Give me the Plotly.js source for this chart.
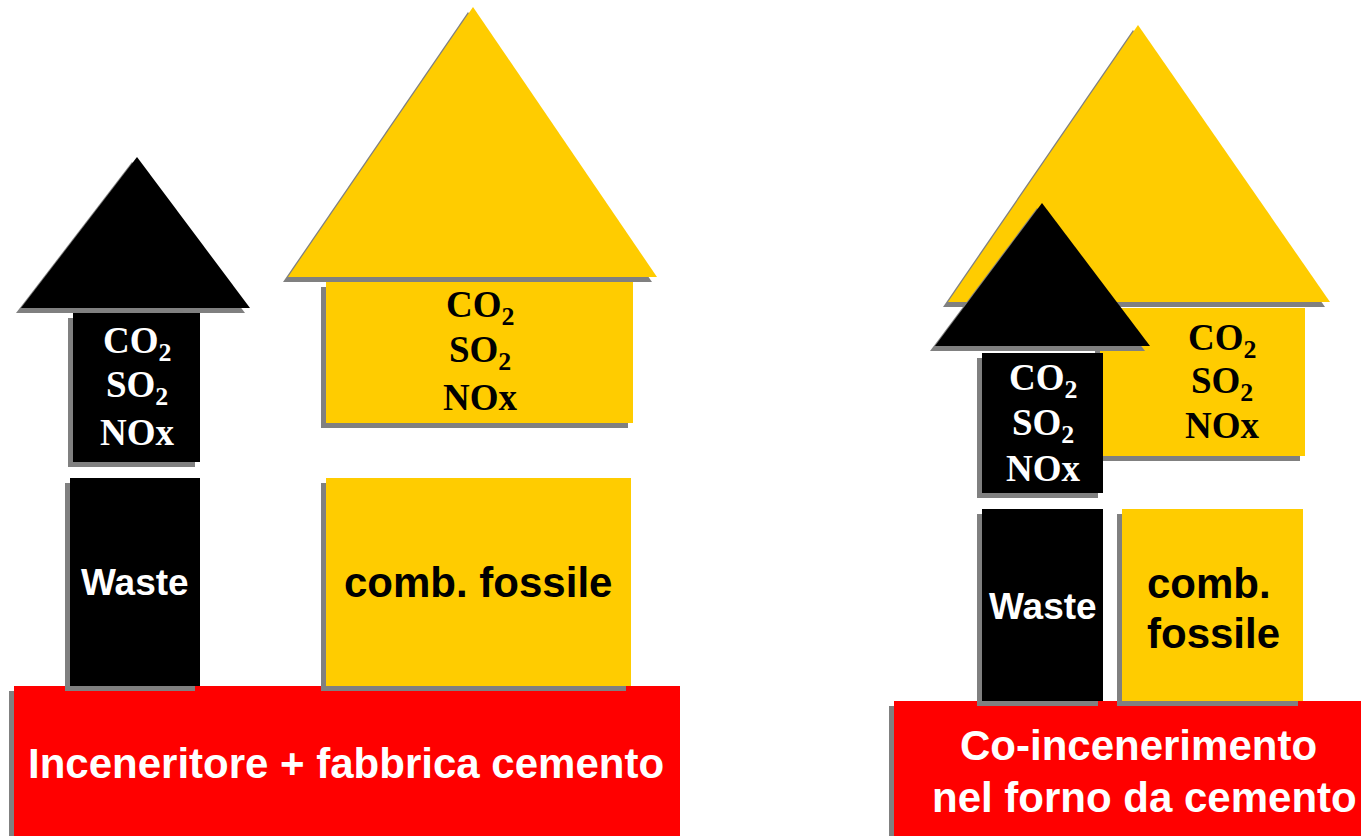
<!DOCTYPE html>
<html>
<head>
<meta charset="utf-8">
<script src="https://cdn.plot.ly/plotly-3.0.1.min.js"></script>
<style>html,body{margin:0;padding:0;background:#fff;}#chart{width:1361px;height:836px;}</style>
</head>
<body>
<div id="chart"></div>
<script>
// Text content of the diagram
const gasLabels = ["CO<sub>2</sub>", "SO<sub>2</sub>", "NOx"];
const fuelLabels = ["Waste", "comb. fossile", "comb.", "fossile"];
const plantLabels = ["Inceneritore + fabbrica cemento", "Co-incenerimento", "nel forno da cemento"];

const YEL = "#FFCC00", BLK = "#000000", RED = "#FF0000", SH = "#808080";
const OFF = 5;
const shapes = [];
function rect(x0, y0, x1, y1, color) {
  shapes.push({type: "rect", xref: "x", yref: "y", x0: x0 - OFF, x1: x1 - OFF, y0: y0 + OFF, y1: y1 + OFF, fillcolor: SH, line: {width: 0}, layer: "above"});
  shapes.push({type: "rect", xref: "x", yref: "y", x0: x0, x1: x1, y0: y0, y1: y1, fillcolor: color, line: {width: 0}, layer: "above"});
}
function tri(xl, xr, yb, xa, ya, color) {
  const p = (dx, dy) => `M${xl + dx},${yb + dy} L${xa + dx},${ya + dy} L${xr + dx},${yb + dy} Z`;
  shapes.push({type: "path", xref: "x", yref: "y", path: p(-OFF, OFF), fillcolor: SH, line: {width: 0}, layer: "above"});
  shapes.push({type: "path", xref: "x", yref: "y", path: p(0, 0), fillcolor: color, line: {width: 0}, layer: "above"});
}

// Left: incinerator + cement plant
rect(14, 686, 680, 840, RED);
rect(70, 478, 200, 686, BLK);
rect(326, 478, 631, 686, YEL);
rect(73, 313, 200, 462, BLK);
tri(21, 250, 308, 137, 157, BLK);
rect(326, 282, 633, 423, YEL);
tri(288, 657, 277, 473, 7, YEL);

// Right: co-incineration
rect(894, 701, 1365, 840, RED);
rect(982, 509, 1103, 701, BLK);
rect(1122, 509, 1303, 701, YEL);
rect(1100, 308, 1305, 456, YEL);
tri(948, 1330, 302, 1138, 25, YEL);
rect(982, 353, 1103, 493, BLK);
tri(935, 1150, 346, 1042, 203, BLK);

const serif = "Liberation Serif, Times New Roman, serif";
const sans = "Liberation Sans, Arial, sans-serif";
const annotations = [];
function txt(x, y, t, size, color, fam, xanchor) {
  annotations.push({x: x, y: y, xref: "x", yref: "y", text: "<b>" + t + "</b>", showarrow: false,
    font: {family: fam, size: size, color: color}, xanchor: xanchor || "center", yanchor: "middle", align: "left"});
}
const gasYLeftBlack = [343, 387, 432];
const gasYLeftYellow = [307, 352, 397];
const gasYRightYellow = [340, 383, 425];
const gasYRightBlack = [380, 425, 468];
gasLabels.forEach((g, i) => {
  txt(137, gasYLeftBlack[i], g, 37, "#fff", serif);
  txt(480, gasYLeftYellow[i], g, 37, "#000", serif);
  txt(1222, gasYRightYellow[i], g, 37, "#000", serif);
  txt(1043, gasYRightBlack[i], g, 37, "#fff", serif);
});
txt(135, 582, fuelLabels[0], 37, "#fff", sans);
txt(478, 582, fuelLabels[1], 42, "#000", sans);
txt(1043, 606, fuelLabels[0], 37, "#fff", sans);
txt(1145, 583, fuelLabels[2], 42, "#000", sans, "left");
txt(1145, 633, fuelLabels[3], 42, "#000", sans, "left");
txt(346, 763, plantLabels[0], 42, "#fff", sans);
txt(1138, 745, plantLabels[1], 42, "#fff", sans);
txt(1144, 797, plantLabels[2], 42, "#fff", sans);

const layout = {
  width: 1361, height: 836, autosize: false,
  margin: {l: 0, r: 0, t: 0, b: 0},
  paper_bgcolor: "#fff", plot_bgcolor: "#fff",
  showlegend: false,
  xaxis: {range: [0, 1361], visible: false, fixedrange: true},
  yaxis: {range: [836, 0], visible: false, fixedrange: true},
  shapes: shapes, annotations: annotations
};
Plotly.newPlot("chart", [{x: [], y: [], type: "scatter", mode: "markers", hoverinfo: "skip"}], layout, {displayModeBar: false, staticPlot: true});
</script>
</body>
</html>
